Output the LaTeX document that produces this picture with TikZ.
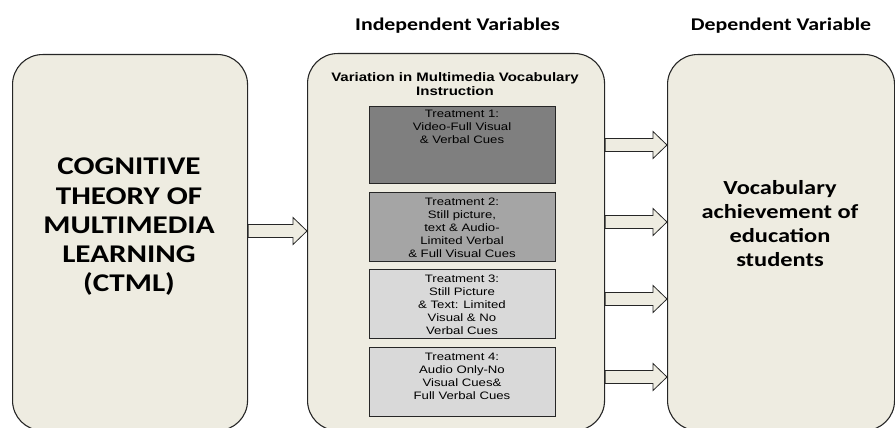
\documentclass[tikz,border=0pt]{standalone}
\usepackage{fontspec}
\setmainfont{Liberation Sans}[FakeStretch=1.22]
\newfontfamily\calib{Carlito}[FakeStretch=1.22]
\usetikzlibrary{calc}
\definecolor{panelfill}{HTML}{EEECE1}
\definecolor{edge}{HTML}{262626}
\definecolor{shadeA}{HTML}{7F7F7F}
\definecolor{shadeB}{HTML}{A5A5A5}
\definecolor{shadeC}{HTML}{D9D9D9}

% block arrow from #1 (tail) to #2 (tip), horizontal at the tail's height
\newcommand\blockarrow[2]{%
  \draw[barrow] let \p1=(#1), \p2=(#2) in
    (\x1,\y1+6.5pt) -- (\x2-14pt,\y1+6.5pt) -- (\x2-14pt,\y1+13.5pt) --
    (\x2,\y1) -- (\x2-14pt,\y1-13.5pt) -- (\x2-14pt,\y1-6.5pt) --
    (\x1,\y1-6.5pt) -- cycle;}

\begin{document}
\begin{tikzpicture}[x=1pt,y=-1pt,
  panel/.style={draw=edge, line width=1.1pt, fill=panelfill,
    rounded corners=30pt, anchor=north west, inner sep=0pt},
  treat/.style={draw=edge, line width=0.8pt, minimum width=186pt,
    anchor=north, inner sep=0pt},
  treattext/.style={align=center, inner sep=0pt, anchor=north,
    font=\fontsize{10.8}{13}\selectfont},
  header/.style={inner sep=0pt, anchor=base,
    font=\calib\bfseries\fontsize{17.9}{20}\selectfont},
  barrow/.style={draw=edge, line width=0.8pt, fill=panelfill}]

\useasboundingbox (0,0) rectangle (895,428);

% headers
\node[header] (hind) at (457.5,30.6) {Independent Variables};
\node[header] (hdep) at (781,30.6) {Dependent Variable};

% three panels
\node[panel, minimum width=235pt, minimum height=376pt] (lbox) at (12,54) {};
\node[panel, minimum width=297pt, minimum height=377pt] (mbox) at (307,53) {};
\node[panel, minimum width=227pt, minimum height=376pt] (rbox) at (667,54) {};

% panel texts
\node[align=center, inner sep=0pt, anchor=north,
  font=\calib\bfseries\fontsize{25.5}{29.2}\selectfont] (ltext) at (129,158)
  {COGNITIVE\\THEORY OF\\MULTIMEDIA\\LEARNING\\(CTML)};
\node[align=center, inner sep=0pt, anchor=north,
  font=\bfseries\fontsize{12.3}{14}\selectfont] (mtitle) at (455,72.5)
  {Variation in Multimedia Vocabulary\\Instruction};
\node[align=center, inner sep=0pt, anchor=north,
  font=\calib\bfseries\fontsize{20}{24}\selectfont] (rtext) at (780,180)
  {Vocabulary\\achievement of\\education\\students};

% treatment boxes
\node[treat, fill=shadeA, minimum height=77pt] (t1) at (462,106) {};
\node[treat, fill=shadeB, minimum height=69pt] (t2) at (462,192) {};
\node[treat, fill=shadeC, minimum height=69pt] (t3) at (462,269) {};
\node[treat, fill=shadeC, minimum height=69pt] (t4) at (462,347) {};

\node[treattext] (t1text) at (462,110) {Treatment 1:\\Video-Full Visual\\\& Verbal Cues};
\node[treattext] (t2text) at (462,198) {Treatment 2:\\Still picture,\\text \& Audio-\\Limited Verbal\\\& Full Visual Cues};
\node[treattext] (t3text) at (462,275) {Treatment 3:\\Still Picture\\\& Text: Limited\\Visual \& No\\Verbal Cues};
\node[treattext] (t4text) at (462,353) {Treatment 4:\\Audio Only-No\\Visual Cues\&\\Full Verbal Cues};

% arrow heights
\coordinate (y0) at (0,231);
\coordinate (y1) at (0,145);
\coordinate (y2) at (0,222);
\coordinate (y3) at (0,299);
\coordinate (y4) at (0,377);

% connectors
\blockarrow{lbox.east |- y0}{mbox.west |- y0}
\blockarrow{mbox.east |- y1}{rbox.west |- y1}
\blockarrow{mbox.east |- y2}{rbox.west |- y2}
\blockarrow{mbox.east |- y3}{rbox.west |- y3}
\blockarrow{mbox.east |- y4}{rbox.west |- y4}
\end{tikzpicture}
\end{document}
